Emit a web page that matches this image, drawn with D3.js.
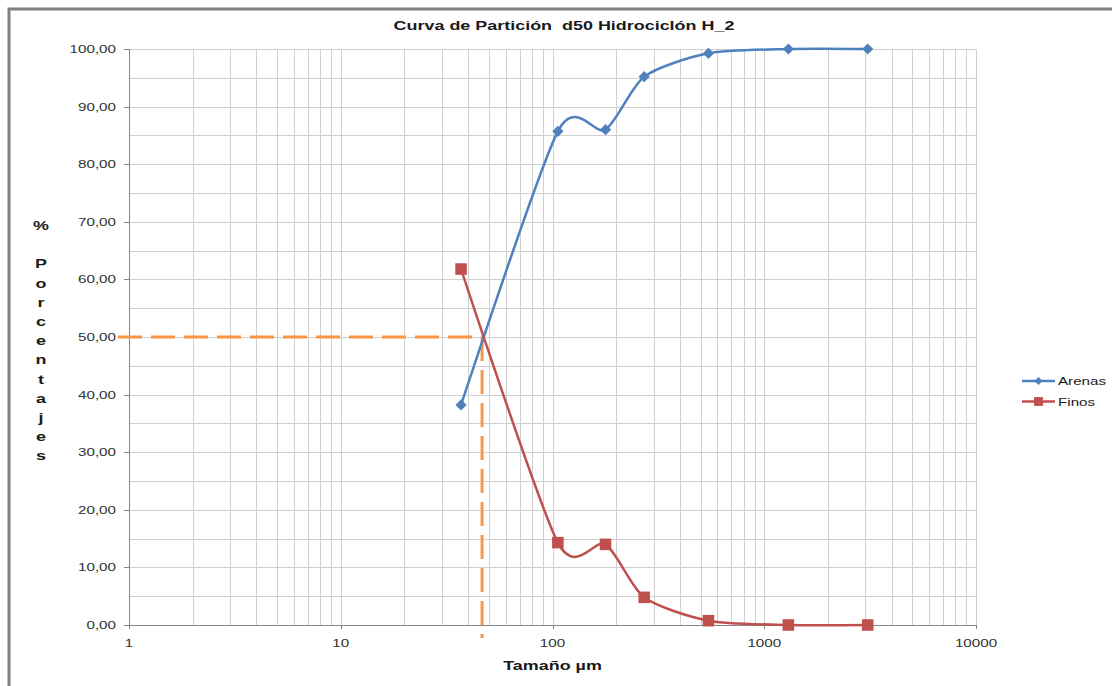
<!DOCTYPE html>
<html lang="es">
<head>
<meta charset="UTF-8">
<title>Curva de Partición d50 Hidrociclón H_2</title>
<script src="https://d3js.org/d3.v7.min.js"></script>
<style>
    body { margin: 0; background: #fff; }
    svg { display: block; font-family: "Liberation Sans", Arial, sans-serif; }
    text { white-space: pre; }
</style>
</head>
<body>
<svg width="1112" height="686"></svg>
<script>
    // datos
    const tamanos = [37, 106, 178, 271, 545, 1300, 3080];
    const arenas = [38.2, 85.7, 86.0, 95.2, 99.25, 100, 100];
    const finos = [61.8, 14.3, 14.0, 4.8, 0.75, 0, 0];
    const d50 = 46.5;
    const corte = 50;
    const xTicks = [1, 10, 100, 1000, 10000];
    const yTicks = [0, 10, 20, 30, 40, 50, 60, 70, 80, 90, 100];
    const ejeY = ["%", "", "P", "o", "r", "c", "e", "n", "t", "a", "j", "e", "s"];
    const series = [
        { nombre: "Arenas", valores: arenas, color: "#4f81bd", marca: d3.symbolDiamond2, tam: 80, tamLey: 42 },
        { nombre: "Finos", valores: finos, color: "#c0504d", marca: d3.symbolSquare2, tam: 170, tamLey: 100 }
    ];

    const SX = 1.38; // el original está estirado en horizontal
    const svg = d3.select("svg");
    const W = 1112, H = 686;
    const pIzq = 129, pDer = 976, pSup = 49, pInf = 625;

    const x = d3.scaleLog().domain([1, 10000]).range([pIzq, pDer]);
    const y = d3.scaleLinear().domain([0, 100]).range([pInf, pSup]);
    const fmt = d3.formatLocale({ decimal: ",", thousands: ".", grouping: [3], currency: ["", ""] }).format(".2f");

    function texto(g, tx, ty, str, size, weight, anchor) {
        return g.append("text")
            .attr("transform", `translate(${tx},${ty}) scale(${SX},1)`)
            .attr("text-anchor", anchor || "start")
            .attr("font-size", size)
            .attr("font-weight", weight || "normal")
            .attr("fill", "#1a1a1a")
            .text(str);
    }

    svg.append("rect").attr("width", W).attr("height", H).attr("fill", "#fff");
    // marco
    svg.append("path")
        .attr("d", `M9,${H + 5}V9H${W + 5}`)
        .attr("fill", "none")
        .attr("stroke", "#808080")
        .attr("stroke-width", 3);

    // cuadrícula
    const grid = svg.append("g").attr("stroke", "#d0d0d0").attr("stroke-width", 1);
    const xGrid = [];
    xTicks.slice(0, -1).forEach(d => { for (let k = 1; k <= 9; k++) xGrid.push(k * d); });
    xGrid.push(10000);
    grid.selectAll("line.v").data(xGrid).join("line")
        .attr("class", "v")
        .attr("x1", d => Math.round(x(d)) + 0.5).attr("x2", d => Math.round(x(d)) + 0.5)
        .attr("y1", pSup).attr("y2", pInf);
    grid.selectAll("line.h").data(d3.range(5, 101, 5)).join("line")
        .attr("class", "h")
        .attr("y1", d => Math.round(y(d)) + 0.5).attr("y2", d => Math.round(y(d)) + 0.5)
        .attr("x1", pIzq).attr("x2", pDer);

    // ejes
    const ax = svg.append("g").attr("stroke", "#868686").attr("stroke-width", 1);
    ax.append("line").attr("x1", pIzq + 0.5).attr("x2", pIzq + 0.5).attr("y1", pSup).attr("y2", pInf + 0.5);
    ax.append("line").attr("x1", pIzq).attr("x2", pDer).attr("y1", pInf + 0.5).attr("y2", pInf + 0.5);
    ax.selectAll("line.ty").data(yTicks).join("line")
        .attr("class", "ty")
        .attr("x1", pIzq - 5).attr("x2", pIzq)
        .attr("y1", d => Math.round(y(d)) + 0.5).attr("y2", d => Math.round(y(d)) + 0.5);
    ax.selectAll("line.tx").data(xTicks).join("line")
        .attr("class", "tx")
        .attr("x1", d => Math.round(x(d)) + 0.5).attr("x2", d => Math.round(x(d)) + 0.5)
        .attr("y1", pInf).attr("y2", pInf + 4);

    const labels = svg.append("g");
    yTicks.forEach(d => texto(labels, pIzq - 13, y(d) + 4, fmt(d), 11, "normal", "end").attr("fill", "#333"));
    xTicks.forEach(d => texto(labels, x(d), pInf + 22, String(d), 11, "normal", "middle").attr("fill", "#333"));

    // títulos
    texto(svg, 564, 30, "Curva de Partición  d50 Hidrociclón H_2", 13, "bold", "middle");
    texto(svg, (pIzq + pDer) / 2, 670, "Tamaño µm", 13, "bold", "middle");
    ejeY.forEach((c, i) => {
        if (c) texto(svg, 41, 230 + i * 19.2, c, 13, "bold", "middle");
    });

    // líneas d50
    const guia = svg.append("g")
        .attr("fill", "none")
        .attr("stroke", "#f79646")
        .attr("stroke-width", 3)
        .attr("stroke-dasharray", "24,9");
    guia.append("path").attr("d", `M${pIzq - 11},${y(corte)}H${x(d50)}`);
    guia.append("path").attr("d", `M${x(d50)},${y(corte)}V${pInf + 13}`);

    // series (suavizado tipo Excel)
    const line = d3.line()
        .x((d, i) => x(tamanos[i]))
        .y(d => y(d))
        .curve(d3.curveCardinal.tension(0.25));

    series.forEach(s => {
        const g = svg.append("g");
        g.append("path")
            .attr("d", line(s.valores))
            .attr("fill", "none")
            .attr("stroke", s.color)
            .attr("stroke-width", 2.5);
        g.selectAll("path.m").data(s.valores).join("path")
            .attr("class", "m")
            .attr("transform", (d, i) => `translate(${x(tamanos[i])},${y(d)})`)
            .attr("d", d3.symbol().type(s.marca).size(s.tam))
            .attr("fill", s.color);
    });

    // leyenda
    const ley = svg.append("g");
    series.forEach((s, i) => {
        const ly = 381 + i * 20.5;
        ley.append("line")
            .attr("x1", 1022).attr("x2", 1055)
            .attr("y1", ly).attr("y2", ly)
            .attr("stroke", s.color).attr("stroke-width", 2.5);
        ley.append("path")
            .attr("transform", `translate(1038.5,${ly})`)
            .attr("d", d3.symbol().type(s.marca).size(s.tamLey))
            .attr("fill", s.color);
        texto(ley, 1058, ly + 4, s.nombre, 11, "normal", "start");
    });
</script>
</body>
</html>
